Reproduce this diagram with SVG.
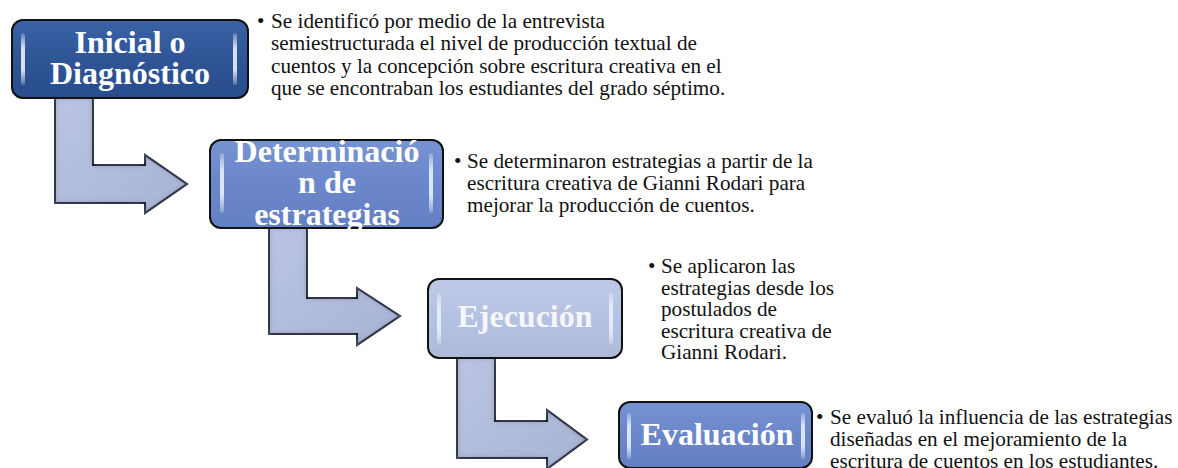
<svg xmlns="http://www.w3.org/2000/svg" width="1178" height="468" viewBox="0 0 1178 468">
<defs>
<style>
.box{stroke:#111;stroke-width:2}
.arr{fill:url(#gArr);stroke:#111;stroke-width:2;stroke-linejoin:miter;filter:url(#bevel)}
.title{font-family:"Liberation Serif","Times New Roman",serif;font-weight:bold;font-size:32px;text-anchor:middle}
.desc{font-family:"Liberation Serif","Times New Roman",serif;font-size:21.2px;fill:#111}
.hl{fill:url(#gHl)}
</style>
<linearGradient id="gArr" x1="0" y1="0" x2="1" y2="1">
<stop offset="0" stop-color="#BAC4E2"/><stop offset="1" stop-color="#A9B3D3"/>
</linearGradient>
<linearGradient id="g1" x1="0" y1="0" x2="0" y2="1">
<stop offset="0" stop-color="#3A62A6"/><stop offset="0.5" stop-color="#2F5597"/><stop offset="1" stop-color="#284C8C"/>
</linearGradient>
<linearGradient id="g2" x1="0" y1="0" x2="0" y2="1">
<stop offset="0" stop-color="#7693D3"/><stop offset="0.5" stop-color="#6B87CA"/><stop offset="1" stop-color="#6480C4"/>
</linearGradient>
<linearGradient id="g3" x1="0" y1="0" x2="0" y2="1">
<stop offset="0" stop-color="#BECAE7"/><stop offset="0.5" stop-color="#B5C1E0"/><stop offset="1" stop-color="#AEBADA"/>
</linearGradient>
<linearGradient id="gHl" x1="0" y1="0" x2="0" y2="1">
<stop offset="0" stop-color="#FFFFFF" stop-opacity="0.2"/><stop offset="0.3" stop-color="#E8F0FF" stop-opacity="0.9"/><stop offset="0.7" stop-color="#E8F0FF" stop-opacity="0.9"/><stop offset="1" stop-color="#FFFFFF" stop-opacity="0.2"/>
</linearGradient>
<filter id="bevel" x="-10%" y="-10%" width="120%" height="120%">
<feGaussianBlur in="SourceAlpha" stdDeviation="3" result="b"/>
<feComposite in="SourceAlpha" in2="b" operator="out" result="edge"/>
<feFlood flood-color="#5A6480" flood-opacity="0.8"/>
<feComposite in2="edge" operator="in" result="dark"/>
<feMerge><feMergeNode in="SourceGraphic"/><feMergeNode in="dark"/></feMerge>
</filter>
</defs>
<rect width="1178" height="468" fill="#FFFFFF"/>
<g id="connectors">
<path class="arr" d="M55,98 H93 V165 H145 V155 L187,184 L145,213 V203 H55 Z"/>
<path class="arr" d="M269,228 H307 V298 H357 V288 L400,316 L357,345 V334 H269 Z"/>
<path class="arr" d="M457,358 H495 V421 H547 V410 L587,439.5 L547,469 V458 H457 Z"/>
</g>
<g id="node-inicial">
<rect class="box" x="12" y="20" width="236" height="78" rx="11" fill="url(#g1)"/>
<rect class="hl" x="21" y="33" width="4" height="52" rx="2"/>
<rect class="hl" x="233" y="33" width="4" height="52" rx="2"/>
<text class="title" x="130" y="53" fill="#FFFFFF">Inicial o</text>
<text class="title" x="130" y="84" fill="#FFFFFF">Diagnóstico</text>
</g>
<g id="node-determinacion">
<rect class="box" x="210" y="140" width="233" height="88" rx="11" fill="url(#g2)"/>
<rect class="hl" x="220" y="153" width="4" height="60" rx="2"/>
<rect class="hl" x="429" y="153" width="4" height="60" rx="2"/>
<text class="title" x="327" y="162" fill="#FFFFFF">Determinació</text>
<text class="title" x="327" y="193" fill="#FFFFFF">n de</text>
<text class="title" x="327" y="225" fill="#FFFFFF">estrategias</text>
</g>
<g id="node-ejecucion">
<rect class="box" x="428" y="279" width="194" height="79" rx="11" fill="url(#g3)"/>
<rect class="hl" x="437" y="293" width="4" height="52" rx="2"/>
<rect class="hl" x="609" y="293" width="4" height="52" rx="2"/>
<text class="title" x="525" y="327" fill="#F4F6FC">Ejecución</text>
</g>
<g id="node-evaluacion">
<rect class="box" x="619" y="402" width="193" height="66" rx="11" fill="url(#g2)"/>
<rect class="hl" x="627" y="413" width="4" height="46" rx="2"/>
<rect class="hl" x="801" y="413" width="4" height="46" rx="2"/>
<text class="title" x="717" y="445" fill="#FFFFFF">Evaluación</text>
</g>
<g id="text-inicial">
<text class="desc" x="257" y="27.5">•</text>
<text class="desc" x="271" y="27.5" textLength="334" lengthAdjust="spacing">Se identificó por medio de la entrevista</text>
<text class="desc" x="271" y="50">semiestructurada el nivel de producción textual de</text>
<text class="desc" x="271" y="72.5">cuentos y la concepción sobre escritura creativa en el</text>
<text class="desc" x="271" y="95">que se encontraban los estudiantes del grado séptimo.</text>
</g>
<g id="text-determinacion">
<text class="desc" x="454" y="168">•</text>
<text class="desc" x="467" y="168">Se determinaron estrategias a partir de la</text>
<text class="desc" x="467" y="190">escritura creativa de Gianni Rodari para</text>
<text class="desc" x="467" y="212">mejorar la producción de cuentos.</text>
</g>
<g id="text-ejecucion">
<text class="desc" x="648" y="273">•</text>
<text class="desc" x="661" y="273">Se aplicaron las</text>
<text class="desc" x="661" y="295">estrategias desde los</text>
<text class="desc" x="661" y="316">postulados de</text>
<text class="desc" x="661" y="337.5">escritura creativa de</text>
<text class="desc" x="661" y="359">Gianni Rodari.</text>
</g>
<g id="text-evaluacion">
<text class="desc" x="816" y="424">•</text>
<text class="desc" x="830" y="424">Se evaluó la influencia de las estrategias</text>
<text class="desc" x="830" y="446">diseñadas en el mejoramiento de la</text>
<text class="desc" x="830" y="468">escritura de cuentos en los estudiantes.</text>
</g>
</svg>
